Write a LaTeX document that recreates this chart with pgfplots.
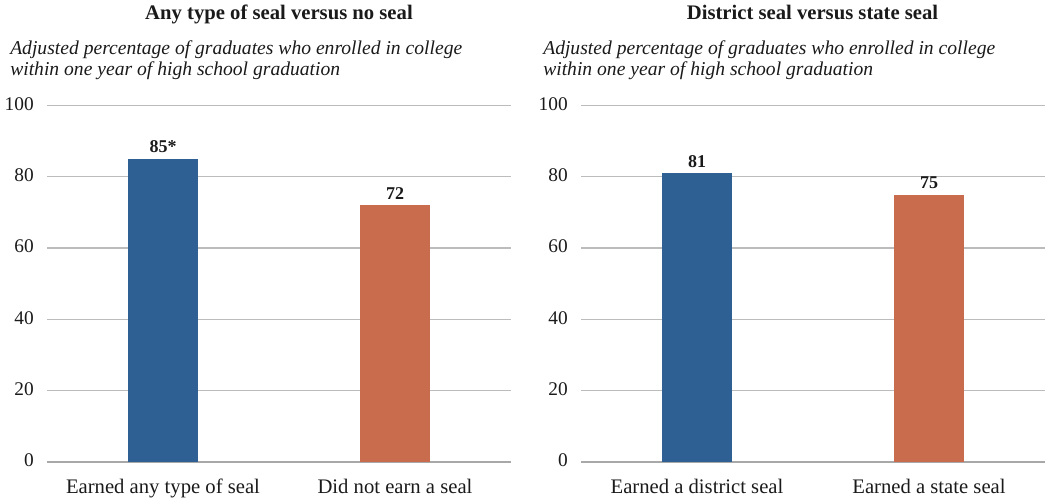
\documentclass[border=0pt]{standalone}
\usepackage{pgfplots}
\pgfplotsset{compat=1.18}
\usepackage{fontspec}
\setmainfont{Liberation Serif}
\definecolor{barblue}{HTML}{2E6094}
\definecolor{barorange}{HTML}{C96C4E}
\definecolor{gridgray}{HTML}{BCBCBC}
\definecolor{zerogray}{HTML}{A8A8A8}
\definecolor{txt}{HTML}{1A1A1A}
\pgfplotsset{
 panel/.style={
  scale only axis, width=348pt, height=267.4pt,
  xmin=-0.5, xmax=1.5, ymin=0, ymax=100,
  axis line style={draw=none},
  major tick length=0pt,
  ytick={20,40,60,80,100},
  extra y ticks={0},
  extra y tick style={grid style={zerogray, line width=1.1pt}},
  xtick={0,1},
  /pgf/number format/assume math mode=true,
  ymajorgrids, grid style={gridgray, line width=1pt},
  yticklabel style={anchor=east, inner sep=0pt, xshift=-9.75pt, yshift=1.2pt, font=\fontsize{14.5}{16}\selectfont, text=txt},
  xticklabel style={anchor=base, inner sep=0pt, yshift=-23.4pt, font=\fontsize{15.5}{18}\selectfont, text=txt},
  ybar, bar width=52.5pt,
  point meta=explicit symbolic,
  nodes near coords,
  nodes near coords style={anchor=base, inner sep=0pt, yshift=4.5pt, font=\bfseries\fontsize{13.5}{15}\selectfont, text=txt},
  clip=false,
 }
}
\begin{document}
\begin{tikzpicture}
\path[use as bounding box] (0,0) rectangle (783.75pt,373.5pt);
\begin{axis}[panel, at={(35.25pt,27pt)}, anchor=south west,
  xticklabels={Earned any type of seal, Did not earn a seal}]
\addplot[fill=barblue, draw=none, bar shift=0pt] coordinates {(0,85) [85*]};
\addplot[fill=barorange, draw=none, bar shift=0pt] coordinates {(1,72) [72]};
\end{axis}
\begin{axis}[panel, at={(435.75pt,27pt)}, anchor=south west,
  xticklabels={Earned a district seal, Earned a state seal}]
\addplot[fill=barblue, draw=none, bar shift=0pt] coordinates {(0,81) [81]};
\addplot[fill=barorange, draw=none, bar shift=0pt] coordinates {(1,75) [75]};
\end{axis}
\node[anchor=base, inner sep=0pt, text=txt, font=\bfseries\fontsize{15.5}{18}\selectfont] at (209.25pt,358.5pt) {Any type of seal versus no seal};
\node[anchor=base, inner sep=0pt, text=txt, font=\bfseries\fontsize{15.5}{18}\selectfont] at (609.4pt,358.5pt) {District seal versus state seal};
\node[anchor=base west, inner sep=0pt, text=txt, font=\itshape\fontsize{14.7}{18}\selectfont] at (7.5pt,332.6pt) {Adjusted percentage of graduates who enrolled in college};
\node[anchor=base west, inner sep=0pt, text=txt, font=\itshape\fontsize{14.7}{18}\selectfont] at (7.5pt,316.5pt) {within one year of high school graduation};
\node[anchor=base west, inner sep=0pt, text=txt, font=\itshape\fontsize{14.7}{18}\selectfont] at (407.25pt,332.6pt) {Adjusted percentage of graduates who enrolled in college};
\node[anchor=base west, inner sep=0pt, text=txt, font=\itshape\fontsize{14.7}{18}\selectfont] at (407.25pt,316.5pt) {within one year of high school graduation};
\end{tikzpicture}
\end{document}
